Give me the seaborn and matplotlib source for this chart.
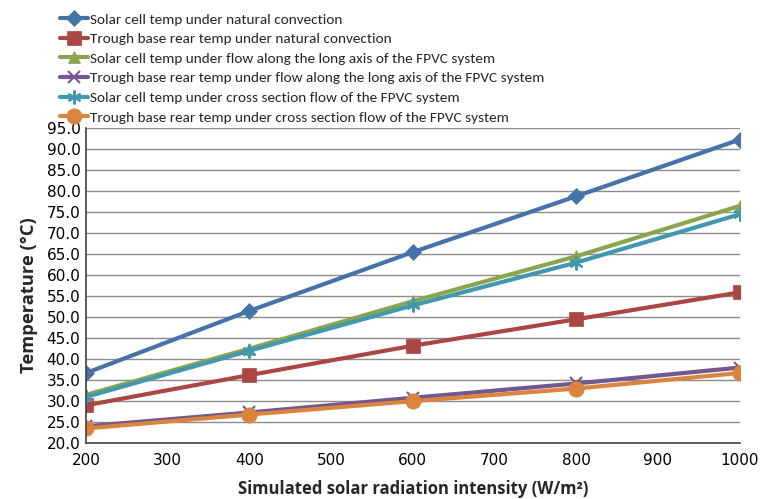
import matplotlib
matplotlib.use("Agg")
import matplotlib.pyplot as plt
import seaborn as sns
import pandas as pd

# Radiation intensity levels (W/m²)
radiation = [200, 400, 600, 800, 1000]

# Temperatures (°C) for each configuration
solar_natural = [36.7, 51.5, 65.5, 78.8, 92.3]
trough_natural = [29.0, 36.2, 43.2, 49.5, 55.9]
solar_long_axis = [31.5, 42.5, 53.8, 64.5, 76.5]
trough_long_axis = [24.0, 27.3, 30.8, 34.2, 38.0]
solar_cross = [31.0, 42.0, 52.8, 63.0, 74.5]
trough_cross = [23.5, 26.8, 30.0, 33.0, 36.7]

series_names = [
    "Solar cell temp under natural convection",
    "Trough base rear temp under natural convection",
    "Solar cell temp under flow along the long axis of the FPVC system",
    "Trough base rear temp under flow along the long axis of the FPVC system",
    "Solar cell temp under cross section flow of the FPVC system",
    "Trough base rear temp under cross section flow of the FPVC system",
]
series_values = [solar_natural, trough_natural, solar_long_axis,
                 trough_long_axis, solar_cross, trough_cross]

y_ticks = [20.0, 25.0, 30.0, 35.0, 40.0, 45.0, 50.0, 55.0, 60.0,
           65.0, 70.0, 75.0, 80.0, 85.0, 90.0, 95.0]
x_ticks = [200, 300, 400, 500, 600, 700, 800, 900, 1000]

colors = ["#4572A7", "#AA4643", "#89A54E", "#71588F", "#4198AF", "#DB843D"]
markers = ["D", "s", "^", "x", (6, 2, 0), "o"]
msizes = [8, 10, 9, 9, 10, 11]

sns.set_theme(style="white")
plt.rcParams["font.family"] = ["DejaVu Sans"]

fig = plt.figure(figsize=(7.61, 4.99), dpi=100)
ax = fig.add_axes([0.113, 0.112, 0.859, 0.631])

for name, vals, c, m, ms in zip(series_names, series_values, colors, markers, msizes):
    df = pd.DataFrame({"x": radiation, "y": vals})
    sns.lineplot(data=df, x="x", y="y", ax=ax, color=c, linewidth=3,
                 marker=m, markersize=ms, markeredgecolor=c,
                 markeredgewidth=1.5 if m in ("x", (6, 2, 0)) else 0.5,
                 label=name)

ax.set_xlim(200, 1000)
ax.set_ylim(20, 95)
ax.set_xticks(x_ticks)
ax.set_yticks(y_ticks)
ax.set_yticklabels([f"{v:.1f}" for v in y_ticks])
ax.tick_params(axis="both", labelsize=11, colors="#000000", length=0, pad=4)
ax.tick_params(axis="x", pad=7)
ax.yaxis.grid(True, color="#8c8c8c", linewidth=1)
ax.xaxis.grid(False)
for s in ("top", "right"):
    ax.spines[s].set_visible(False)
for s in ("left", "bottom"):
    ax.spines[s].set_color("#404040")
    ax.spines[s].set_linewidth(1.2)

ax.set_xlabel("Simulated solar radiation intensity (W/m²)", fontsize=12,
              fontweight="bold", family="Open Sans", labelpad=9)
ax.set_ylabel("Temperature (°C)", fontsize=13.2, fontweight="bold",
              family="Open Sans")
ax.yaxis.set_label_coords(-0.073, 0.47)

ax.legend(loc="lower left", bbox_to_anchor=(-0.04, 1.015), frameon=False,
          prop={"family": "Carlito", "size": 11},
          handlelength=1.85, handletextpad=0.1, labelspacing=0.45,
          borderaxespad=0, borderpad=0)

fig.savefig("out.png", dpi=100)
